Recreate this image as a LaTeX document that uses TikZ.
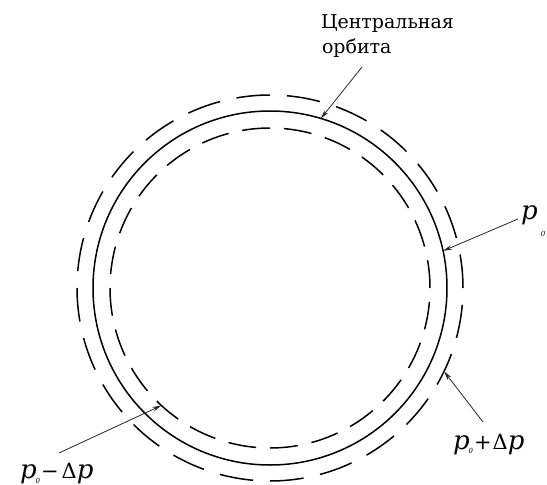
\documentclass[tikz,border=0pt]{standalone}
\usepackage{fontspec}
\setmainfont{DejaVu Serif}
\newfontfamily\serifcyr{DejaVu Serif}
\usetikzlibrary{arrows.meta,calc}
\newcommand\pvar{{\serifcyr\fontsize{26}{26}\selectfont\itshape p}}
\newcommand\zsub{{\serifcyr\fontsize{7}{7}\selectfont\itshape 0}}
\newcommand\symf{\serifcyr\fontsize{21}{21}\selectfont}
\begin{document}
\begin{tikzpicture}[x=1pt,y=-1pt,
  orbit/.style={line width=1.5pt,black},
  pointer/.style={line width=0.8pt,black!85,-{Stealth[length=9pt,width=4.5pt]}},
  lbl/.style={inner sep=0pt,outer sep=0pt,anchor=base west,font=\serifcyr},
  sub/.style={inner sep=0pt,outer sep=0pt,anchor=center}]
\useasboundingbox (0,0) rectangle (547,485);
\coordinate (c) at (270,288);
% central orbit (solid)
\draw[orbit] (c) circle[radius=177];
% outer and inner dashed orbits
\foreach \a in {5,20,...,350} {
  \draw[orbit] (c) ++(\a:193) arc[start angle=\a, end angle=\a+10, radius=193];
  \draw[orbit] (c) ++(\a:160) arc[start angle=\a, end angle=\a+10, radius=160];
}
% labels
\node[lbl,font=\serifcyr\fontsize{19}{25}\selectfont] (t1) at (321,28) {Центральная};
\node[lbl,font=\serifcyr\fontsize{19}{25}\selectfont] (t2) at (322,53) {орбита};
\node[lbl] (p0) at (521,219) {\pvar};
\node[sub] (p0s) at (543,234) {\zsub};
\node[lbl] (pplus) at (453,449) {\pvar\kern-1pt\raisebox{-4pt}{\zsub}\kern1pt{\symf+\kern1ptΔ}\pvar};
\node[lbl] (pminus) at (20,478) {\pvar\kern-1pt\raisebox{-5pt}{\zsub}\kern1pt{\symf−\kern3ptΔ}\pvar};
% pointer coordinates
\coordinate (s1) at (362,67);
\coordinate (e1) at ($(c)+(286.7:177)$);
\coordinate (s2) at (518,219);
\coordinate (e2) at ($(c)+(347.9:177)$);
\coordinate (s3) at (483,422);
\coordinate (e3) at ($(c)+(25.6:193)$);
\coordinate (s4) at (59,453);
\coordinate (e4) at ($(c)+(132.75:160)$);
\draw[pointer] (s1) -- (e1);
\draw[pointer] (s2) -- (e2);
\draw[pointer] (s3) -- (e3);
\draw[pointer] (s4) -- (e4);
\end{tikzpicture}
\end{document}
